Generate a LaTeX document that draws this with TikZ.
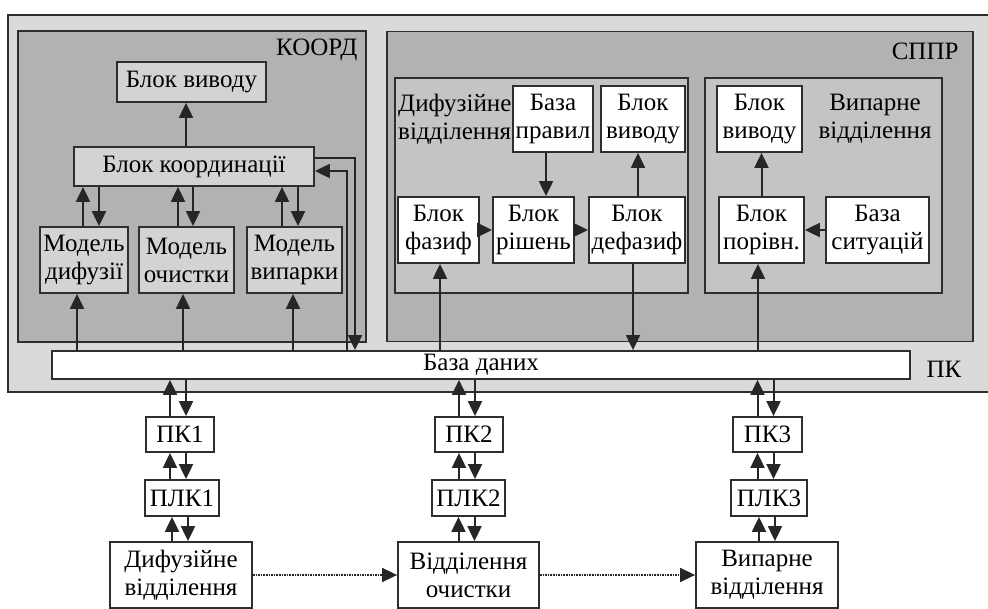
\documentclass[tikz,border=0pt]{standalone}
\usepackage{fontspec}
\setmainfont{Liberation Serif}
\usetikzlibrary{arrows.meta, positioning, calc}

\definecolor{pcgray}{HTML}{D9DAD9}
\definecolor{sysgray}{HTML}{B2B2B2}
\definecolor{grpgray}{HTML}{C4C4C4}
\definecolor{blkgray}{HTML}{D3D3D3}
\definecolor{edgegray}{HTML}{2E2E2E}

\tikzset{
    arr/.style={-{Triangle[length=15pt, width=14pt]}, line width=2pt, draw=black!85},
    dotarr/.style={-{Triangle[length=15pt, width=14pt]}, line width=1.6pt, densely dotted, draw=black!85},
    sysbox/.style={draw=edgegray, line width=1.8pt, fill=sysgray, inner sep=0pt},
    grpbox/.style={draw=edgegray, line width=1.8pt, fill=grpgray, inner sep=0pt},
    blk/.style={draw=edgegray, line width=1.8pt, fill=white, inner sep=0pt, align=center},
    gblk/.style={blk, fill=blkgray},
}

\begin{document}
\begin{tikzpicture}[x=1pt, y=-1pt, font=\fontsize{25}{28}\selectfont]

    \useasboundingbox (0,0) rectangle (988,609);

    %% PC frame
    \node[draw=edgegray, line width=1.8pt, fill=pcgray, inner sep=0pt,
          minimum width=1000, minimum height=377, anchor=north west] (pc) at (7,14) {};
    \node[anchor=center] (pclabel) at (944,369) {ПК};

    % Subsystems
    \node[sysbox, minimum width=348, minimum height=311] (koord) at (192,186.5) {};
    \node[anchor=east] (koordlabel) at (361,50) {КООРД};
    \node[sysbox, minimum width=586, minimum height=310] (sppr) at (680,186.5) {};
    \node[anchor=east] (spprlabel) at (962,51) {СППР};

    % Data base
    \node[blk, minimum width=858, minimum height=28] (db) at (481,365) {База даних};

    %% KOORD blocks
    \node[gblk, minimum width=149, minimum height=40] (kvyv) at (191.5,82) {Блок виводу};
    \node[gblk, minimum width=240, minimum height=39] (kcoord) at (194,166.5) {Блок координації};
    \node[gblk, minimum width=88, minimum height=66] (mdyf) at (84,260) {Модель\\дифузії};
    \node[gblk, minimum width=95, minimum height=66] (mochy) at (186.5,260) {Модель\\очистки};
    \node[gblk, minimum width=95, minimum height=66] (mvyp) at (294.5,260) {Модель\\випарки};

    \draw[arr] ([xshift=-8]kcoord.north) -- ([xshift=-8]kcoord.north |- kvyv.south);
    \draw[arr] ([xshift=-1]mdyf.north) -- ([xshift=-1]mdyf.north |- kcoord.south);
    \draw[arr] ([xshift=15]mdyf.north |- kcoord.south) -- ([xshift=15]mdyf.north);
    \draw[arr] ([xshift=-8.5]mochy.north) -- ([xshift=-8.5]mochy.north |- kcoord.south);
    \draw[arr] ([xshift=6.5]mochy.north |- kcoord.south) -- ([xshift=6.5]mochy.north);
    \draw[arr] ([xshift=-12.5]mvyp.north) -- ([xshift=-12.5]mvyp.north |- kcoord.south);
    \draw[arr] ([xshift=3.5]mvyp.north |- kcoord.south) -- ([xshift=3.5]mvyp.north);

    \draw[arr] ([xshift=-7]mdyf.south |- db.north) -- ([xshift=-7]mdyf.south);
    \draw[arr] ([xshift=-3.5]mochy.south |- db.north) -- ([xshift=-3.5]mochy.south);
    \draw[arr] ([xshift=-1.5]mvyp.south |- db.north) -- ([xshift=-1.5]mvyp.south);

    % feedback to the data base
    \coordinate (fbout) at (355,158);
    \coordinate (fbin) at (347,171);
    \draw[arr] (kcoord.east |- fbout) -- (fbout) -- (fbout |- db.north);
    \draw[arr] (fbin |- db.north) -- (fbin) -- (kcoord.east |- fbin);

    %% SPPR groups
    \node[grpbox, minimum width=293, minimum height=215] (difgrp) at (541.5,185.5) {};
    \node[grpbox, minimum width=237, minimum height=215] (vypgrp) at (823.5,185.5) {};
    \node[anchor=west, align=left, inner sep=0pt] (diflabel) at (398,119) {Дифузійне\\відділення};
    \node[align=center, inner sep=0pt] (vyplabel) at (875,119) {Випарне\\відділення};

    % diffusion department
    \node[blk, minimum width=80, minimum height=66] (bprav) at (553,119) {База\\правил};
    \node[blk, minimum width=84, minimum height=66] (dvyv) at (643,119) {Блок\\виводу};
    \node[blk, minimum width=81, minimum height=66] (bfaz) at (438.5,230) {Блок\\фазиф};
    \node[blk, minimum width=81, minimum height=66] (brish) at (533.5,230) {Блок\\рішень};
    \node[blk, minimum width=96, minimum height=66] (bdef) at (637,230) {Блок\\дефазиф};

    \draw[arr] ([xshift=-7]bprav.south) -- ([xshift=-7]bprav.south |- brish.north);
    \draw[arr] (bfaz) -- (brish);
    \draw[arr] (brish) -- (bdef);
    \draw[arr] ([xshift=1]bdef.north) -- ([xshift=1]bdef.north |- dvyv.south);
    \draw[arr] ([xshift=1.5]bfaz.south |- db.north) -- ([xshift=1.5]bfaz.south);
    \draw[arr] ([xshift=-4]bdef.south) -- ([xshift=-4]bdef.south |- db.north);

    % evaporation department
    \node[blk, minimum width=85, minimum height=66] (vvyv) at (759.5,119) {Блок\\виводу};
    \node[blk, minimum width=85, minimum height=66] (bpor) at (761.5,230) {Блок\\порівн.};
    \node[blk, minimum width=103, minimum height=66] (bsyt) at (877.5,230) {База\\ситуацій};

    \draw[arr] (bpor.north) -- (bpor.north |- vvyv.south);
    \draw[arr] (bsyt) -- (bpor);
    \draw[arr] ([xshift=-3.5]bpor.south |- db.north) -- ([xshift=-3.5]bpor.south);

    %% Field level
    \node[blk, minimum width=68, minimum height=35] (pk1) at (180,434.5) {ПК1};
    \node[blk, minimum width=74, minimum height=36] (plk1) at (182,498) {ПЛК1};
    \node[blk, minimum width=142, minimum height=66] (vid1) at (181,575) {Дифузійне\\відділення};
    \node[blk, minimum width=68, minimum height=35] (pk2) at (469,434.5) {ПК2};
    \node[blk, minimum width=73, minimum height=36] (plk2) at (468.5,498) {ПЛК2};
    \node[blk, minimum width=141, minimum height=66] (vid2) at (468.5,575) {Відділення\\очистки};
    \node[blk, minimum width=69, minimum height=35] (pk3) at (767.5,434.5) {ПК3};
    \node[blk, minimum width=76, minimum height=36] (plk3) at (769,498) {ПЛК3};
    \node[blk, minimum width=142, minimum height=66] (vid3) at (767,575) {Випарне\\відділення};

    \foreach \i in {1,2,3} {
        \draw[arr] ([xshift=-10]pk\i.north) -- ([xshift=-10]pk\i.north |- db.south);
        \draw[arr] ([xshift=6]pk\i.north |- db.south) -- ([xshift=6]pk\i.north);
        \draw[arr] ([xshift=-10]pk\i.south |- plk\i.north) -- ([xshift=-10]pk\i.south);
        \draw[arr] ([xshift=6]pk\i.south) -- ([xshift=6]pk\i.south |- plk\i.north);
        \draw[arr] ([xshift=-10]plk\i.south |- vid\i.north) -- ([xshift=-10]plk\i.south);
        \draw[arr] ([xshift=6]plk\i.south) -- ([xshift=6]plk\i.south |- vid\i.north);
    }

    \draw[dotarr] (vid1) -- (vid2);
    \draw[dotarr] (vid2) -- (vid3);

\end{tikzpicture}
\end{document}
